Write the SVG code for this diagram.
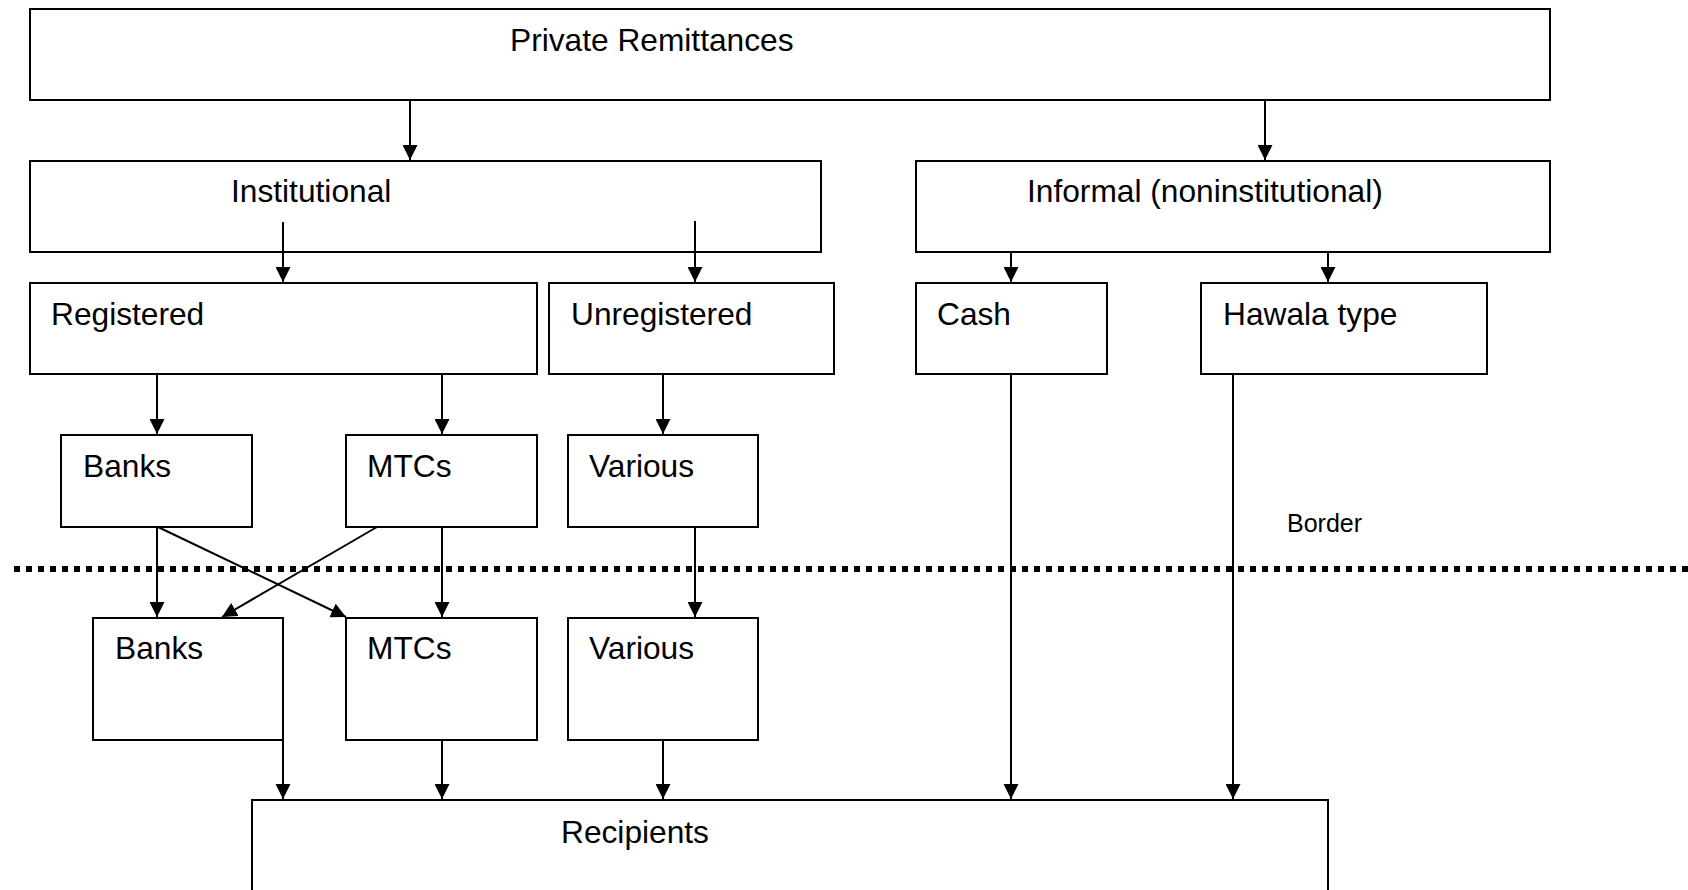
<svg xmlns="http://www.w3.org/2000/svg" width="1688" height="890" viewBox="0 0 1688 890">
<defs>
<marker id="ah" markerUnits="userSpaceOnUse" viewBox="0 0 15 15" refX="15" refY="7.5" markerWidth="15" markerHeight="15" orient="auto">
<path d="M0,0 L15,7.5 L0,15 z" fill="#000"/>
</marker>
<style>
.box{fill:#fff;stroke:#000;stroke-width:2}
.lbl{font-family:"Liberation Sans",Arial,sans-serif;font-size:31.7px;fill:#000}
.small{font-family:"Liberation Sans",Arial,sans-serif;font-size:25px;fill:#000}
.c{stroke:#000;stroke-width:2;fill:none}
.a{stroke:#000;stroke-width:2;fill:none;marker-end:url(#ah)}
</style>
</defs>
<rect width="1688" height="890" fill="#fff"/>
<g id="border">
<line x1="14" y1="569" x2="1688" y2="569" stroke="#000" stroke-width="6" stroke-dasharray="6 6"/>
<text class="small" x="1287" y="532">Border</text>
</g>
<g id="private-remittances"><rect class="box" x="30" y="9" width="1520" height="91"/><text class="lbl" x="510" y="51">Private Remittances</text></g>
<g id="institutional"><rect class="box" x="30" y="161" width="791" height="91"/><text class="lbl" x="231" y="202">Institutional</text></g>
<g id="informal"><rect class="box" x="916" y="161" width="634" height="91"/><text class="lbl" x="1027" y="202">Informal (noninstitutional)</text></g>
<g id="registered"><rect class="box" x="30" y="283" width="507" height="91"/><text class="lbl" x="51" y="325">Registered</text></g>
<g id="unregistered"><rect class="box" x="549" y="283" width="285" height="91"/><text class="lbl" x="571" y="325">Unregistered</text></g>
<g id="cash"><rect class="box" x="916" y="283" width="191" height="91"/><text class="lbl" x="937" y="325">Cash</text></g>
<g id="hawala"><rect class="box" x="1201" y="283" width="286" height="91"/><text class="lbl" x="1223" y="325">Hawala type</text></g>
<g id="banks-top"><rect class="box" x="61" y="435" width="191" height="92"/><text class="lbl" x="83" y="477">Banks</text></g>
<g id="mtcs-top"><rect class="box" x="346" y="435" width="191" height="92"/><text class="lbl" x="367" y="477">MTCs</text></g>
<g id="various-top"><rect class="box" x="568" y="435" width="190" height="92"/><text class="lbl" x="589" y="477">Various</text></g>
<g id="banks-bottom"><rect class="box" x="93" y="618" width="190" height="122"/><text class="lbl" x="115" y="659">Banks</text></g>
<g id="mtcs-bottom"><rect class="box" x="346" y="618" width="191" height="122"/><text class="lbl" x="367" y="659">MTCs</text></g>
<g id="various-bottom"><rect class="box" x="568" y="618" width="190" height="122"/><text class="lbl" x="589" y="659">Various</text></g>
<g id="recipients"><rect class="box" x="252" y="800" width="1076" height="130"/><text class="lbl" x="561" y="843">Recipients</text></g>
<g id="connectors">
<line class="a" x1="410" y1="100" x2="410" y2="160"/>
<line class="a" x1="1265" y1="100" x2="1265" y2="160"/>
<line class="a" x1="283" y1="222" x2="283" y2="282"/>
<line class="a" x1="695" y1="221" x2="695" y2="282"/>
<line class="a" x1="1011" y1="252" x2="1011" y2="282"/>
<line class="a" x1="1328" y1="252" x2="1328" y2="282"/>
<line class="a" x1="157" y1="374" x2="157" y2="434"/>
<line class="a" x1="442" y1="374" x2="442" y2="434"/>
<line class="a" x1="663" y1="374" x2="663" y2="434"/>
<line class="a" x1="157" y1="527" x2="157" y2="617"/>
<line class="a" x1="442" y1="527" x2="442" y2="617"/>
<line class="a" x1="695" y1="527" x2="695" y2="617"/>
<line class="a" x1="158" y1="527" x2="346" y2="617"/>
<line class="a" x1="377" y1="527" x2="222" y2="617"/>
<line class="a" x1="283" y1="740" x2="283" y2="799"/>
<line class="a" x1="442" y1="740" x2="442" y2="799"/>
<line class="a" x1="663" y1="740" x2="663" y2="799"/>
<line class="a" x1="1011" y1="374" x2="1011" y2="799"/>
<line class="a" x1="1233" y1="374" x2="1233" y2="799"/>
</g>
</svg>
